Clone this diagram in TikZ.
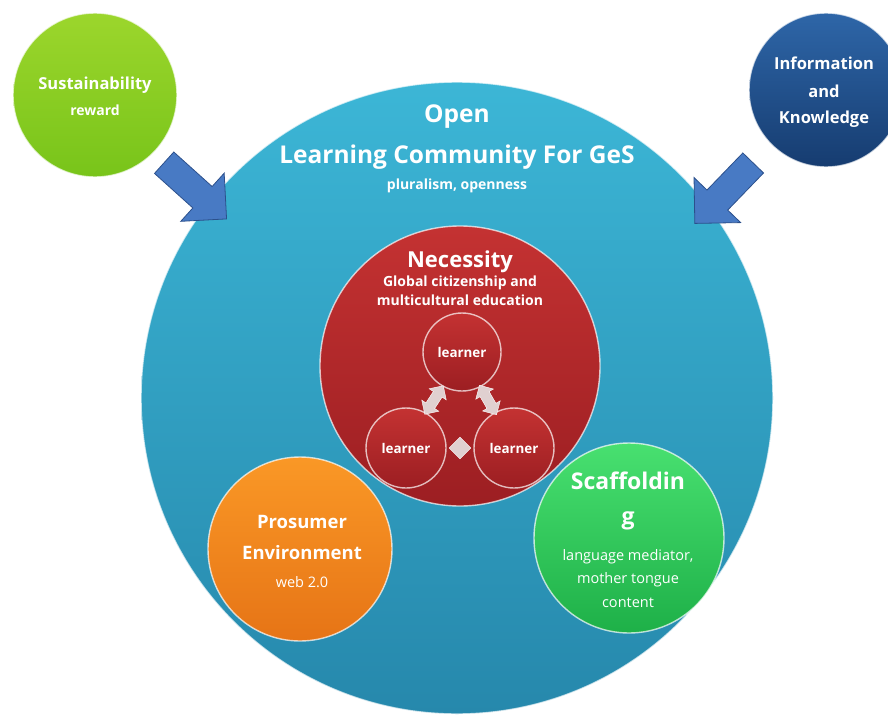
\documentclass[tikz,border=0pt]{standalone}
\usepackage{fontspec}
\setmainfont{Open Sans}
\usepackage{tikz}
\usetikzlibrary{positioning,calc,shapes,arrows}

\definecolor{comtop}{RGB}{60,182,214}
\definecolor{combot}{RGB}{38,136,172}
\definecolor{nectop}{RGB}{196,50,50}
\definecolor{necbot}{RGB}{156,30,34}
\definecolor{protop}{RGB}{250,152,38}
\definecolor{probot}{RGB}{230,116,22}
\definecolor{scatop}{RGB}{72,224,112}
\definecolor{scabot}{RGB}{30,176,72}
\definecolor{sustop}{RGB}{156,214,44}
\definecolor{susbot}{RGB}{120,196,26}
\definecolor{inftop}{RGB}{46,102,168}
\definecolor{infbot}{RGB}{22,60,112}
\definecolor{arrfill}{RGB}{72,122,196}
\definecolor{arredge}{RGB}{44,80,140}
\definecolor{dblfill}{RGB}{224,208,208}

\begin{document}
\begin{tikzpicture}[x=1pt,y=-1pt,node distance=4pt]
	\tikzstyle{every node}=[text=white,inner sep=0pt,align=center]
	\tikzstyle{ball}=[circle,draw=white,draw opacity=0.7,line width=1.4pt]
	\tikzstyle{huge}=[font=\bfseries\fontsize{24.5}{28}\selectfont]
	\tikzstyle{large}=[font=\bfseries\fontsize{23}{27}\selectfont]
	\tikzstyle{mid}=[font=\bfseries\fontsize{16.5}{20}\selectfont]
	\tikzstyle{small}=[font=\bfseries\fontsize{14}{17}\selectfont]
	\tikzstyle{plain}=[font=\fontsize{14.5}{17}\selectfont]
	\tikzstyle{blockarrow}=[single arrow,draw=arredge,fill=arrfill,thick,inner ysep=14pt,minimum height=84pt,single arrow head extend=18pt]
	\tikzstyle{twoway}=[double arrow,draw=white,fill=dblfill,inner ysep=5pt,minimum height=34pt,double arrow head extend=5pt]
	
	\useasboundingbox (0,0) rectangle (888,717);
	\clip (0,0) rectangle (888,717);
	\fill[white] (0,0) rectangle (888,717);
	
	% outer circles
	\node[ball, minimum size=632pt, top color=comtop, bottom color=combot] (Com) at (457,398) {};
	\node[ball, minimum size=164pt, top color=sustop, bottom color=susbot] (Sus) at (95,95) {};
	\node[ball, minimum size=154pt, top color=inftop, bottom color=infbot] (Inf) at (826,90) {};
	
	\node[blockarrow, rotate=-42] (A1) at (190,186) {};
	\node[blockarrow, rotate=-134] (A2) at (729,188) {};
	
	\node[huge] (T1) at (457,117) {Open};
	\node[huge] (T2) at (457,157) {Learning Community For GeS};
	\node[small] (T3) at (457,186) {pluralism, openness};
	
	\node[mid] (S1) at (95,85) {Sustainability};
	\node[small] (S2) at (95,110) {reward};
	
	\node[mid] (I1) at (824,63) {Information};
	\node[mid] (I2) at (824,91) {and};
	\node[mid] (I3) at (824,119) {Knowledge};
	
	% necessity
	\node[ball, minimum size=280pt, top color=nectop, bottom color=necbot] (Nec) at (460,366) {};
	\node[large, font=\bfseries\fontsize{22}{26}\selectfont] (N1) at (460,262) {Necessity};
	\node[small] (N2) at (460,283) {Global citizenship and};
	\node[small] (N3) at (460,300) {multicultural education};
	
	\node[ball, minimum size=78pt, top color=nectop, bottom color=necbot, small, font=\bfseries\fontsize{13.4}{16}\selectfont] (L1) at (462,352) {learner};
	\node[ball, minimum size=80pt, top color=nectop, bottom color=necbot, small, font=\bfseries\fontsize{13.4}{16}\selectfont] (L2) at (406,448) {learner};
	\node[ball, minimum size=80pt, top color=nectop, bottom color=necbot, small, font=\bfseries\fontsize{13.4}{16}\selectfont] (L3) at (514,448) {learner};
	
	\node[twoway, rotate=57] (D1) at ($(L1)!0.5!(L2)$) {};
	\node[twoway, rotate=120] (D2) at ($(L1)!0.5!(L3)$) {};
	\node[diamond, draw=white, fill=dblfill, minimum size=22pt] (D3) at ($(L2)!0.5!(L3)$) {};
	
	% prosumer
	\node[ball, minimum size=184pt, top color=protop, bottom color=probot] (Pro) at (300,549) {};
	\node[mid, font=\bfseries\fontsize{18.5}{22}\selectfont] (P1) at (302,522) {Prosumer};
	\node[mid, font=\bfseries\fontsize{18.5}{22}\selectfont] (P2) at (302,553) {Environment};
	\node[plain] (P3) at (302,582) {web 2.0};
	
	% scaffolding
	\node[ball, minimum size=190pt, top color=scatop, bottom color=scabot] (Sca) at (629,538) {};
	\node[large] (F1) at (628,481) {Scaffoldin};
	\node[large] (F2) at (628,521) {g};
	\node[plain] (F3) at (628,557) {language mediator,};
	\node[plain] (F4) at (628,580) {mother tongue};
	\node[plain] (F5) at (628,603) {content};
	
\end{tikzpicture}
\end{document}
